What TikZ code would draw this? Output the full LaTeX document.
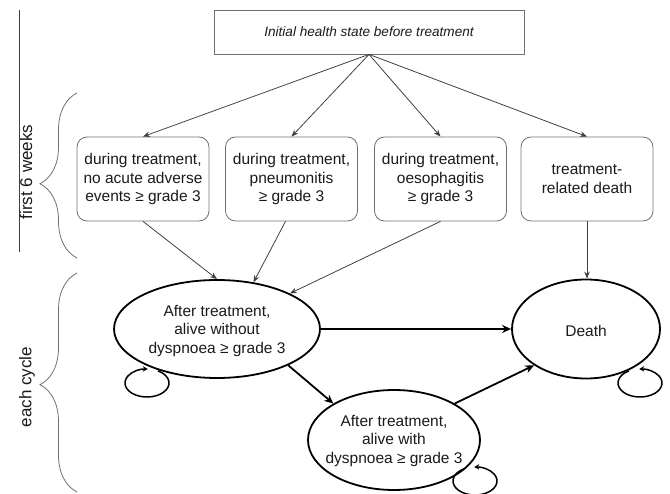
\documentclass[tikz,border=0pt]{standalone}
\usepackage{fontspec}
\setmainfont{Liberation Sans}
\usetikzlibrary{arrows.meta,decorations.pathreplacing,shapes.geometric,calc}
\definecolor{boxgray}{HTML}{707070}
\definecolor{arrgray}{HTML}{404040}
\definecolor{txtgray}{HTML}{1A1A1A}
\begin{document}
\begin{tikzpicture}[x=1pt,y=-1pt,
  box/.style={draw=boxgray, line width=0.8pt, rounded corners=10pt, minimum width=132pt, minimum height=84pt, align=center, inner sep=0pt, text=txtgray, font=\fontsize{15.5}{18.3}\selectfont},
  state/.style={draw=black, ellipse, line width=1.8pt, inner sep=0pt},
  statetext/.style={align=center, inner sep=0pt, text=txtgray, font=\fontsize{15.5}{18.6}\selectfont},
  thinarr/.style={draw=arrgray, line width=0.8pt, -{Stealth[length=7pt,width=5.5pt]}},
  thickarr/.style={draw=black, line width=1.8pt, -{Stealth[length=9pt,width=8pt]}},
  looparr/.style={draw=black, line width=1.5pt, -{Stealth[length=5pt,width=5.5pt]}},
  bracestyle/.style={draw=boxgray, line width=0.8pt, decorate},
  sidetext/.style={rotate=90, inner sep=0pt, text=txtgray, font=\fontsize{17}{20}\selectfont}
]
\useasboundingbox (0,0) rectangle (670,494);

% top box
\node[draw=boxgray, line width=0.8pt, minimum width=310pt, minimum height=44pt, inner sep=0pt,
      text=txtgray, font=\fontsize{13.6}{16}\selectfont\itshape] (init) at (369,32) {Initial health state before treatment};

% acute phase boxes
\node[box] (b1) at (143,179) {during treatment,\\no acute adverse\\events ≥ grade 3};
\node[box] (b2) at (291.5,179) {during treatment,\\pneumonitis\\≥ grade 3};
\node[box] (b3) at (440.5,179) {during treatment,\\oesophagitis\\≥ grade 3};
\node[box] (b4) at (587,179) {treatment-\\related death};

% states
\node[state, minimum width=206pt, minimum height=98pt] (e1) at (217,329) {};
\node[statetext] (e1t) at (217,331) {After treatment,\\alive without\\dyspnoea ≥ grade 3};
\node[state, minimum width=148pt, minimum height=99pt] (death) at (586,329) {};
\node[statetext] (deatht) at (586,331) {Death};
\node[state, minimum width=172pt, minimum height=100pt] (e3) at (394,440) {};
\node[statetext] (e3t) at (394,441) {After treatment,\\alive with\\dyspnoea ≥ grade 3};

% arrows from initial state
\draw[thinarr] (init.south) -- (b1.north);
\draw[thinarr] (init.south) -- (b2.north);
\draw[thinarr] (init.south) -- (b3.north);
\draw[thinarr] (init.south) -- (b4.north);

% arrows from acute boxes
\draw[thinarr] (b1.south) -- (e1.north);
\draw[thinarr] ($(b2.south)+(-6,0)$) -- (e1.52);
\draw[thinarr] (b3.south) -- (e1.26);
\draw[thinarr] (b4.south) -- (b4.south |- death.north);

% thick transitions
\draw[thickarr] (e1) -- (death);
\draw[thickarr] (e1.-27) -- (e3.149);
\draw[thickarr] (e3.31) -- (death.215);

% self loops
\coordinate (l1) at (147,383);
\coordinate (l2) at (640,383);
\coordinate (l3) at (475,481);
\draw[looparr] ($(l1)+(60:22pt and 14pt)$) arc[start angle=60, end angle=-272, x radius=22pt, y radius=14pt];
\draw[looparr] ($(l2)+(120:22pt and 14pt)$) arc[start angle=120, end angle=452, x radius=22pt, y radius=14pt];
\draw[looparr] ($(l3)+(120:22pt and 14pt)$) arc[start angle=120, end angle=452, x radius=22pt, y radius=14pt];

% side annotations
\coordinate (vt) at (19,10);
\coordinate (vb) at (19,252);
\draw[draw=arrgray, line width=0.8pt] (vt) -- (vb);
\node[sidetext] (t1) at (26,172) {first 6 weeks};
\node[sidetext] (t2) at (27,387) {each cycle};

\coordinate (br1b) at (77,258);
\coordinate (br1t) at (77,93);
\coordinate (br2b) at (77,492);
\coordinate (br2t) at (77,273);
\draw[bracestyle, decoration={brace, amplitude=37pt, aspect=0.45}] (br1b) -- (br1t);
\draw[bracestyle, decoration={brace, amplitude=37pt, aspect=0.49}] (br2b) -- (br2t);
\end{tikzpicture}
\end{document}
